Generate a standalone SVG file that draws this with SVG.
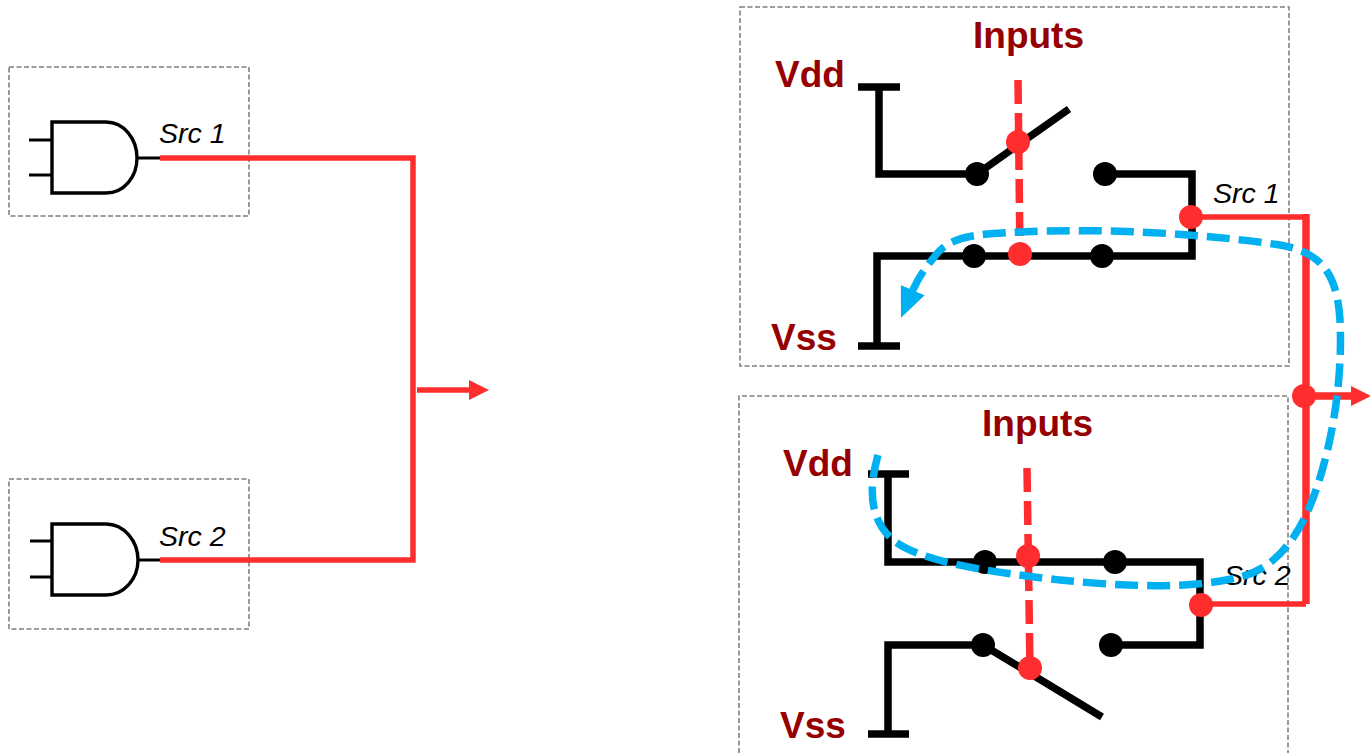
<svg xmlns="http://www.w3.org/2000/svg" width="1370" height="753" viewBox="0 0 1370 753">
<style>
.box{fill:none;stroke:#808080;stroke-width:1.6;stroke-dasharray:5 2.5}
.gate{fill:none;stroke:#000;stroke-width:3.4}
.thin{fill:none;stroke:#000;stroke-width:3}
.w{fill:none;stroke:#000;stroke-width:7.5}
.r{fill:none;stroke:#ff2d2d;stroke-width:5.5}
.rb{fill:none;stroke:#ff2d2d;stroke-width:7.5}
.rd{fill:none;stroke:#ff2d2d;stroke-width:7.5;stroke-dasharray:24 9}
.bd{fill:none;stroke:#00b0f0;stroke-width:7.5;stroke-dasharray:23 9}
.k{fill:#000}.rc{fill:#ff2d2d}
.src{font:italic 28.5px "Liberation Sans",Arial,sans-serif;fill:#000}
.lab{font:bold 37px "Liberation Sans",Arial,sans-serif;fill:#960000}
</style>
<defs>
<marker id="ar" markerUnits="userSpaceOnUse" markerWidth="22" markerHeight="20" refX="2" refY="10" orient="auto"><path d="M0 0L20 10L0 20Z" fill="#ff2d2d"/></marker>
<marker id="ab" markerUnits="userSpaceOnUse" markerWidth="32" markerHeight="26" refX="2" refY="13" orient="auto"><path d="M0 0L30 13L0 26Z" fill="#00b0f0"/></marker>
</defs>

<g id="src1-left">
<rect class="box" x="9" y="67" width="240" height="149"/>
<path class="gate" d="M52 122H106C124 122 137 139 137 158C137 177 124 193 106 193H52Z"/>
<path class="thin" d="M29 140H52M29 175H52M137 158H161"/>
<text class="src" x="159" y="143">Src 1</text>
</g>
<g id="src2-left">
<rect class="box" x="9" y="479" width="240" height="150"/>
<path class="gate" d="M52 524H106C124 524 138 541 138 560C138 579 124 595 106 595H52Z"/>
<path class="thin" d="M30 541H52M30 577H52M138 560H161"/>
<text class="src" x="159" y="546">Src 2</text>
</g>

<g id="src1-right">
<rect class="box" x="740" y="7" width="549" height="359"/>
<text class="lab" x="973" y="48">Inputs</text>
<text class="lab" x="775" y="87">Vdd</text>
<text class="lab" x="771" y="350">Vss</text>
<path class="w" d="M858 87H900M879 87V174H977L1069 109M1105 174H1192V256H877V346M858 346H900"/>
<circle class="k" cx="977" cy="174" r="12"/><circle class="k" cx="1105" cy="174" r="12"/>
<circle class="k" cx="974" cy="256" r="12"/><circle class="k" cx="1102" cy="256" r="12"/>
<text class="src" x="1213" y="203">Src 1</text>
</g>
<g id="src2-right">
<path class="box" d="M739 753V396H1288V753"/>
<text class="lab" x="982" y="436">Inputs</text>
<text class="lab" x="783" y="476">Vdd</text>
<text class="lab" x="780" y="738">Vss</text>
<path class="w" d="M868 474H909M888 474V562H1200V645H1111M888 734V645H983L1102 717M868 734H909"/>
<circle class="k" cx="985" cy="562" r="12"/><circle class="k" cx="1115" cy="562" r="12"/>
<circle class="k" cx="983" cy="645" r="12"/><circle class="k" cx="1111" cy="645" r="12"/>
<text class="src" x="1224" y="585">Src 2</text>
</g>

<g id="connectors">
<path class="r" d="M160 158H413V560H160"/>
<path class="r" d="M417 390H471" marker-end="url(#ar)"/>
<path class="rd" d="M1018 80L1020 254"/>
<path class="rd" d="M1027 468L1030 668"/>
<path class="r" d="M1191 217H1306"/>
<path class="rb" d="M1306 214V604"/>
<path class="r" d="M1306 604H1201"/>
<path class="rb" d="M1304 396H1353" marker-end="url(#ar)"/>
<circle class="rc" cx="1018" cy="142" r="12"/><circle class="rc" cx="1020" cy="254" r="12"/>
<circle class="rc" cx="1191" cy="217" r="12"/><circle class="rc" cx="1304" cy="396" r="12"/>
<circle class="rc" cx="1028" cy="556" r="12"/><circle class="rc" cx="1030" cy="668" r="12"/>
<circle class="rc" cx="1201" cy="605" r="12"/>
<path class="bd" d="M878 455C868 490 870 520 893 540C920 562 990 572 1060 580C1120 586 1190 590 1240 577C1290 565 1312 510 1325 460C1338 410 1342 360 1340 320C1337 272 1320 252 1280 245C1200 233 1100 228 1020 232C975 234 950 236 935 256C925 268 918 278 912 292" marker-end="url(#ab)"/>
</g>
</svg>
